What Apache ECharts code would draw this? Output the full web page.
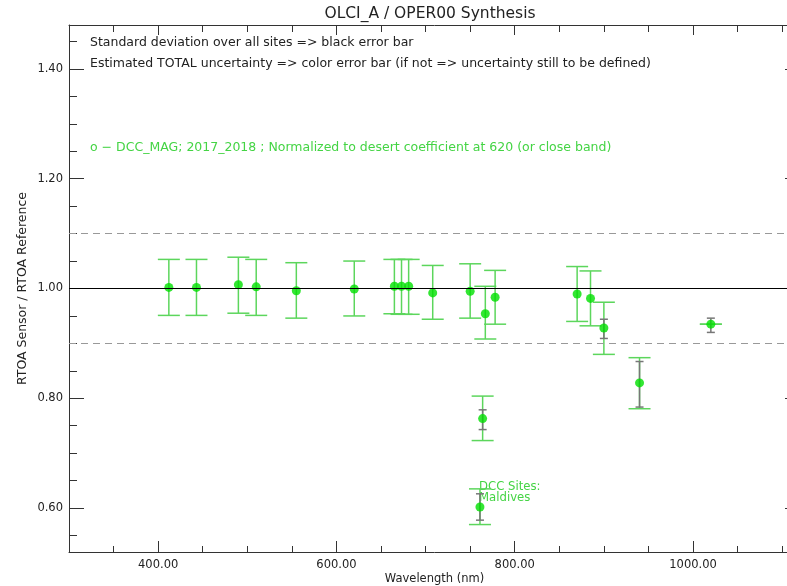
<!DOCTYPE html>
<html>
<head>
<meta charset="utf-8">
<script src="https://cdn.jsdelivr.net/npm/echarts@6/dist/echarts.min.js"></script>
<style>html,body{margin:0;padding:0;background:#fff;overflow:hidden;width:787px;height:586px;}#chart{width:801px;height:586px;}</style>
</head>
<body>
<div id="chart"></div>
<script>
// ---- data ----
const wavelengths = [412, 443, 490, 510, 555, 620, 665, 673, 681, 708, 750, 761, 764, 767, 778, 870, 885, 900, 940, 1020];
const ratio       = [1.002, 1.002, 1.007, 1.003, 0.996, 0.999, 1.004, 1.004, 1.004, 0.992, 0.995, 0.602, 0.763, 0.954, 0.984, 0.990, 0.982, 0.928, 0.828, 0.935];
const totalHigh   = [1.053, 1.053, 1.057, 1.053, 1.047, 1.050, 1.053, 1.053, 1.053, 1.042, 1.045, 0.635, 0.804, 1.004, 1.033, 1.040, 1.032, 0.975, 0.874, 0.935];
const totalLow    = [0.951, 0.951, 0.955, 0.951, 0.946, 0.950, 0.954, 0.953, 0.953, 0.944, 0.946, 0.570, 0.723, 0.908, 0.935, 0.940, 0.932, 0.880, 0.781, 0.935];
const stdHigh     = [null, null, null, null, null, null, null, null, null, null, null, 0.626, 0.779, null, null, null, null, 0.944, 0.867, 0.946];
const stdLow      = [null, null, null, null, null, null, null, null, null, null, null, 0.578, 0.743, null, null, null, null, 0.909, 0.784, 0.920];
const referenceLines = [1.0, 1.1, 0.9];

const xMajorTicks = [400, 600, 800, 1000];
const xMinorTicks = [350, 450, 500, 550, 650, 700, 750, 850, 900, 950, 1050, 1100];
const yMajorTicks = [0.6, 0.8, 1.0, 1.2, 1.4];
const yMinorTicks = [0.55, 0.65, 0.7, 0.75, 0.85, 0.9, 0.95, 1.05, 1.1, 1.15, 1.25, 1.3, 1.35, 1.45];

const titleText = 'OLCI_A / OPER00 Synthesis';
const note1 = 'Standard deviation over all sites => black error bar';
const note2 = 'Estimated TOTAL uncertainty => color error bar (if not => uncertainty still to be defined)';
const note3 = 'o \u2212 DCC_MAG; 2017_2018 ; Normalized to desert coefficient at 620 (or close band)';
const siteText = 'DCC Sites:\nMaldives';
const xName = 'Wavelength (nm)';
const yName = 'RTOA Sensor / RTOA Reference';

// ---- build ----
const FONT = 'DejaVu Sans';
const AX = '#333';
const GREEN_BAR = '#5cd65c';
const GREEN_DOT = '#00e000';
const GREEN_TXT = '#44d444';
const XMIN = 300, XMAX = 1120, YMIN = 0.52, YMAX = 1.48;

const totalData = wavelengths.map((w, i) => [w, totalHigh[i], totalLow[i]]);
const stdData = wavelengths.map((w, i) => [w, stdHigh[i], stdLow[i]]).filter(d => d[1] != null);
const pointData = wavelengths.map((w, i) => [w, ratio[i]]);

function errRender(color, halfCap, lw) {
  return function (params, api) {
    const x = api.value(0), hi = api.value(1), lo = api.value(2);
    const a = api.coord([x, hi]), b = api.coord([x, lo]);
    const st = { stroke: color, lineWidth: lw };
    return {
      type: 'group',
      children: [
        { type: 'line', shape: { x1: a[0], y1: a[1], x2: b[0], y2: b[1] }, style: st },
        { type: 'line', shape: { x1: a[0] - halfCap, y1: a[1], x2: a[0] + halfCap, y2: a[1] }, style: st },
        { type: 'line', shape: { x1: b[0] - halfCap, y1: b[1], x2: b[0] + halfCap, y2: b[1] }, style: st }
      ]
    };
  };
}

function xAx(position, ticks, len, showLine, showLabel) {
  return {
    type: 'value', position: position, min: XMIN, max: XMAX, offset: 0,
    splitLine: { show: false },
    axisLine: { show: showLine, onZero: false, lineStyle: { color: AX, width: 1 } },
    axisTick: { show: true, inside: true, length: len, customValues: ticks, lineStyle: { color: AX } },
    axisLabel: showLabel ? { show: true, customValues: ticks, formatter: v => v.toFixed(2), color: '#222', fontFamily: FONT, fontSize: 11.5, margin: 7 } : { show: false },
    name: showLabel ? xName : '', nameLocation: 'middle', nameGap: 21, nameMoveOverlap: false,
    nameTextStyle: { fontFamily: FONT, fontSize: 11.5, color: '#222' }
  };
}
function yAx(position, ticks, len, showLine, showLabel) {
  return {
    type: 'value', position: position, min: YMIN, max: YMAX, offset: 0,
    splitLine: { show: false },
    axisLine: { show: showLine, onZero: false, lineStyle: { color: AX, width: 1 } },
    axisTick: { show: true, inside: true, length: len, customValues: ticks, lineStyle: { color: AX } },
    axisLabel: showLabel ? { show: true, customValues: ticks, formatter: v => v.toFixed(2), color: '#222', fontFamily: FONT, fontSize: 11.5, margin: 6 } : { show: false },
    name: showLabel ? yName : '', nameLocation: 'middle', nameGap: 40, nameRotate: 90, nameMoveOverlap: false,
    nameTextStyle: { fontFamily: FONT, fontSize: 12.5, color: '#222' }
  };
}

const chart = echarts.init(document.getElementById('chart'), null, { renderer: 'canvas', width: 801, height: 586 });
chart.setOption({
  animation: false,
  backgroundColor: '#fff',
  grid: { left: 69, top: 25, width: 731, height: 527, containLabel: false, outerBoundsMode: 'none' },
  xAxis: [
    xAx('bottom', xMajorTicks, 11, true, true),
    xAx('bottom', xMinorTicks, 6, false, false),
    xAx('top', xMajorTicks, 10, true, false),
    xAx('top', xMinorTicks, 7, false, false)
  ],
  yAxis: [
    yAx('left', yMajorTicks, 15, true, true),
    yAx('left', yMinorTicks, 8, false, false),
    yAx('right', yMajorTicks, 15, true, false),
    yAx('right', yMinorTicks, 8, false, false)
  ],
  graphic: [
    { type: 'text', x: 430, y: 14, style: { text: titleText, fontFamily: FONT, fontSize: 15.5, fill: '#222', align: 'center', verticalAlign: 'middle' } },
    { type: 'text', x: 90, y: 43, style: { text: note1, fontFamily: FONT, fontSize: 12.5, fill: '#222', verticalAlign: 'middle' } },
    { type: 'text', x: 90, y: 63.5, style: { text: note2, fontFamily: FONT, fontSize: 12.5, fill: '#222', verticalAlign: 'middle' } },
    { type: 'text', x: 90, y: 147.5, style: { text: note3, fontFamily: FONT, fontSize: 12.5, fill: GREEN_TXT, verticalAlign: 'middle' } },
    { type: 'text', x: 479, y: 481.5, style: { text: siteText, fontFamily: FONT, fontSize: 11.7, lineHeight: 11, fill: GREEN_TXT } }
  ],
  series: [
    {
      type: 'line', data: [], xAxisIndex: 0, yAxisIndex: 0, silent: true, z: 1,
      markLine: {
        silent: true, symbol: ['none', 'none'], label: { show: false }, animation: false,
        data: referenceLines.map((v, i) => ({
          yAxis: v,
          lineStyle: i === 0 ? { color: '#000', width: 1.2, type: 'solid' } : { color: '#999', width: 1.2, type: [7, 5] }
        }))
      }
    },
    {
      type: 'custom', name: 'total', data: totalData, xAxisIndex: 0, yAxisIndex: 0, z: 2,
      encode: { x: 0, y: [1, 2] }, renderItem: errRender(GREEN_BAR, 11, 1.5)
    },
    {
      type: 'custom', name: 'std', data: stdData, xAxisIndex: 0, yAxisIndex: 0, z: 3,
      encode: { x: 0, y: [1, 2] }, renderItem: errRender('#777', 4, 1.5)
    },
    {
      type: 'scatter', name: 'ratio', data: pointData, xAxisIndex: 0, yAxisIndex: 0, z: 4,
      symbol: 'circle', symbolSize: 9, itemStyle: { color: GREEN_DOT }
    }
  ]
});
</script>
</body>
</html>
